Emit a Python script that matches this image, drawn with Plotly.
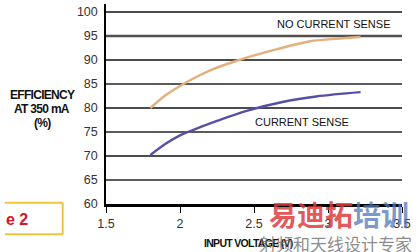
import plotly.graph_objects as go

# ---- data ----
voltage_no_cs = [1.8, 1.9, 2.0, 2.1, 2.2, 2.4, 2.65, 2.88, 3.05, 3.22]
eff_no_cs = [80.0, 82.6, 84.6, 86.3, 87.8, 90.0, 92.2, 93.9, 94.4, 94.8]
voltage_cs = [1.8, 1.9, 2.0, 2.07, 2.25, 2.45, 2.7, 2.92, 3.22]
eff_cs = [70.2, 72.5, 74.3, 75.2, 77.3, 79.4, 81.3, 82.4, 83.3]
x_ticks = [1.5, 2, 2.5, 3, 3.5]
x_tick_labels = ["1.5", "2", "2.5", "3", "3.5"]
y_ticks = [60, 65, 70, 75, 80, 85, 90, 95, 100]
y_tick_labels = ["60", "65", "70", "75", "80", "85", "90", "95", "100"]
grid_values = [65, 70, 75, 80, 85, 90, 95, 100]
label_no_cs = "NO CURRENT SENSE"
label_cs = "CURRENT SENSE"
y_title_lines = ["EFFICIENCY", "AT 350 mA", "(%)"]
x_title = "INPUT VOLTAGE (V)"

W, H = 420, 252
L, R, T, B = 106, 18, 4, 48
PW, PH = W - L - R, H - T - B


def px(xp):
    return (xp - L) / PW


def py(yp):
    return (H - B - yp) / PH


SANS = "Liberation Sans, Arial, sans-serif"
TIGHT = "<span style='letter-spacing:-0.7px'>%s</span>"

fig = go.Figure()

# grid lines
shapes = []
for v in grid_values:
    if v % 10 == 0:
        col, w = "#111111", 1.3
    elif v == 95:
        col, w = "#505050", 2.6
    else:
        col, w = "#5a5a5a", 2.0
    shapes.append(dict(type="line", xref="x", yref="y", x0=x_ticks[0], x1=x_ticks[-1],
                       y0=v, y1=v, line=dict(color=col, width=w), layer="below"))

fig.add_trace(go.Scatter(x=voltage_no_cs, y=eff_no_cs, mode="lines", line_shape="spline",
                         line=dict(color="#E2B07C", width=2.4), showlegend=False))
fig.add_trace(go.Scatter(x=voltage_cs, y=eff_cs, mode="lines", line_shape="spline",
                         line=dict(color="#5550A4", width=2.4), showlegend=False))

ann = []
ann.append(dict(x=2.642, y=97.44, xref="x", yref="y", text=label_no_cs, showarrow=False,
                xanchor="left", yanchor="middle", font=dict(family=SANS, size=11, color="#111")))
ann.append(dict(x=2.491, y=77.15, xref="x", yref="y", text=label_cs, showarrow=False,
                xanchor="left", yanchor="middle", font=dict(family=SANS, size=11, color="#111")))
for t, yy in zip(y_title_lines, [95, 109.3, 123.3]):
    ann.append(dict(x=px(42.4), y=py(yy), xref="paper", yref="paper", text=TIGHT % t,
                    showarrow=False, xanchor="center", yanchor="middle",
                    font=dict(family=SANS, size=12, color="#111", weight="bold")))
ann.append(dict(x=px(201.7), y=py(243.3), xref="paper", yref="paper", text=TIGHT % x_title,
                showarrow=False, xanchor="left", yanchor="middle",
                font=dict(family=SANS, size=10.5, color="#111", weight="bold")))
# figure tag box
ann.append(dict(x=px(4), y=py(219.3), xref="paper", yref="paper", text="<b>e 2</b>",
                showarrow=False, xanchor="left", yanchor="middle",
                font=dict(family=SANS, size=16, color="#D01828")))
for (a, b, c, d) in [(5, 202.7, 62.7, 202.7), (62.7, 202.7, 62.7, 234.3), (5, 234.3, 62.7, 234.3)]:
    shapes.append(dict(type="line", xref="paper", yref="paper", x0=px(a), y0=py(b), x1=px(c), y1=py(d),
                       line=dict(color="#F2C43A", width=2)))
# watermark
ann.append(dict(x=px(267), y=py(214), xref="paper", yref="paper",
                text="<b><span style='color:rgba(222,60,60,0.85)'>易迪拓</span><span style='color:rgba(80,120,185,0.75)'>培训</span></b>",
                showarrow=False, xanchor="left", yanchor="middle",
                font=dict(family="Noto Sans CJK SC", size=28)))
ann.append(dict(x=px(257), y=py(243), xref="paper", yref="paper", text="射频和天线设计专家",
                showarrow=False, xanchor="left", yanchor="middle",
                font=dict(family="Noto Sans CJK SC", size=17, color="rgba(110,110,110,0.8)")))

fig.update_layout(
    width=W, height=H, margin=dict(l=L, r=R, t=T, b=B),
    paper_bgcolor="white", plot_bgcolor="white",
    shapes=shapes, annotations=ann,
    xaxis=dict(range=[1.5, 3.5], tickvals=x_ticks, ticktext=x_tick_labels, showgrid=False,
               zeroline=False, showline=True, linecolor="#000", linewidth=2.5,
               ticks="outside", ticklen=6, tickwidth=1.3, tickcolor="#000",
               tickfont=dict(family=SANS, size=12.5, color="#333")),
    yaxis=dict(range=[60, 60 + PH / 4.8], tickvals=y_ticks, ticktext=y_tick_labels, showgrid=False,
               zeroline=False, showline=True, linecolor="#000", linewidth=1.5,
               ticks="", ticklabelstandoff=4, tickfont=dict(family=SANS, size=12.5, color="#333")),
)

fig.write_html("out.html")
